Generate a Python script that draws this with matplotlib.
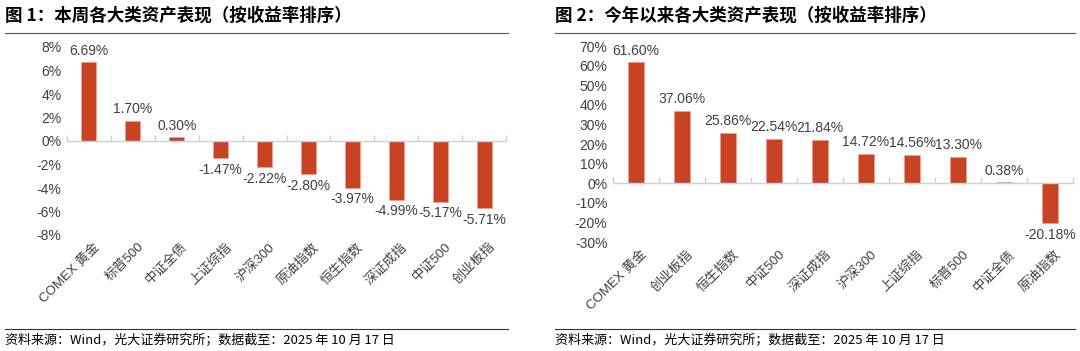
import numpy as np
import matplotlib.pyplot as plt
from matplotlib.ticker import FixedLocator, FuncFormatter
from matplotlib.lines import Line2D

plt.rcParams['font.family'] = ['Noto Sans CJK SC', 'DejaVu Sans']
num_font = ['Liberation Sans', 'Noto Sans CJK SC']

# data
week_names = ['COMEX 黄金', '标普500', '中证全债', '上证综指', '沪深300',
              '原油指数', '恒生指数', '深证成指', '中证500', '创业板指']
week_values = [6.69, 1.70, 0.30, -1.47, -2.22, -2.80, -3.97, -4.99, -5.17, -5.71]

ytd_names = ['COMEX 黄金', '创业板指', '恒生指数', '中证500', '深证成指',
             '沪深300', '上证综指', '标普500', '中证全债', '原油指数']
ytd_values = [61.60, 37.06, 25.86, 22.54, 21.84, 14.72, 14.56, 13.30, 0.38, -20.18]

bar_color = '#C84323'
text_color = '#404040'
W, H = 1080, 351


def draw_panel(ax, names, values, ylim, step, pad):
    x = np.arange(len(names))
    ax.bar(x, values, width=0.34, color=bar_color, edgecolor='#E8A090', linewidth=0.4, zorder=2)
    ax.set_xlim(-0.5, len(names) - 0.5)
    ax.set_ylim(*ylim)
    ax.set_yticks(np.arange(ylim[0], ylim[1] + step / 2, step))
    ax.yaxis.set_major_formatter(FuncFormatter(lambda v, p: '%d%%' % round(v)))
    for lab in ax.get_yticklabels():
        lab.set_family(num_font)
    for s in ['top', 'right', 'left']:
        ax.spines[s].set_visible(False)
    ax.spines['bottom'].set_position(('data', 0))
    ax.spines['bottom'].set_color('#D0D0D0')
    ax.spines['bottom'].set_linewidth(1.0)
    ax.tick_params(axis='y', length=0, labelsize=10, labelcolor=text_color, pad=4)
    ax.set_xticks(x)
    ax.set_xticklabels([])
    ax.tick_params(axis='x', which='major', length=0)
    ax.xaxis.set_minor_locator(FixedLocator(np.arange(-0.5, len(names), 1.0)))
    ax.tick_params(axis='x', which='minor', direction='in', length=4, color='#D0D0D0', width=1.0)
    ybot = ylim[0]
    for i, n in enumerate(names):
        ax.text(i + 0.1, ybot - pad * 0.3, n, rotation=45, ha='right', va='top',
                rotation_mode='anchor', fontsize=9.5, color=text_color, clip_on=False,
                family=num_font)
    for i, v in enumerate(values):
        if v >= 0:
            ax.text(i, v + pad * 0.25, '%.2f%%' % v, ha='center', va='bottom', fontsize=10,
                    color=text_color, family=num_font)
        else:
            ax.text(i, v - pad * 0.25, '%.2f%%' % v, ha='center', va='top', fontsize=10,
                    color=text_color, family=num_font)


fig = plt.figure(figsize=(W / 100, H / 100), dpi=100)

ax1 = fig.add_axes([67 / W, 1 - 235 / H, (506 - 67) / W, (235 - 47) / H])
draw_panel(ax1, week_names, week_values, (-8, 8), 2, 1.6)

ax2 = fig.add_axes([613 / W, 1 - 242 / H, (1073 - 613) / W, (242 - 46) / H])
draw_panel(ax2, ytd_names, ytd_values, (-30, 70), 10, 10)

# titles, rules and source notes
for x0, x1, title in [(5, 508, '图 1：本周各大类资产表现（按收益率排序）'),
                      (555, 1075, '图 2：今年以来各大类资产表现（按收益率排序）')]:
    fig.text(x0 / W, 1 - 16 / H, title, fontsize=12.6, fontweight='bold', color='black', va='center', ha='left')
    fig.add_artist(Line2D([x0 / W, x1 / W], [1 - 33 / H, 1 - 33 / H], color='#555555', linewidth=0.8))
    fig.add_artist(Line2D([x0 / W, x1 / W], [1 - 329 / H, 1 - 329 / H], color='#333333', linewidth=0.8))
    fig.text(x0 / W, 1 - 341 / H, '资料来源：Wind，光大证券研究所；数据截至：2025 年 10 月 17 日',
             fontsize=9.4, color='black', va='center', ha='left')

fig.savefig('out.png', dpi=100)
